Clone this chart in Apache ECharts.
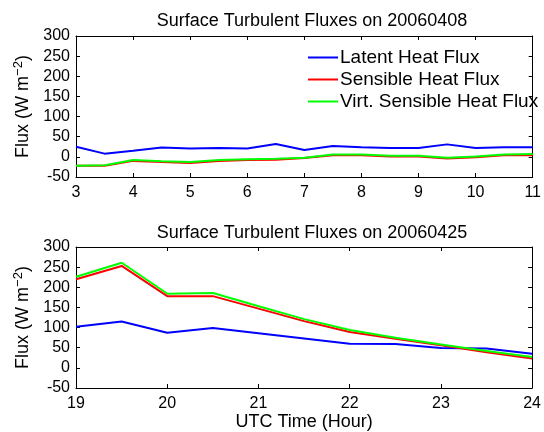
<!DOCTYPE html>
<html>
<head>
<meta charset="utf-8">
<script src="https://cdn.jsdelivr.net/npm/echarts@6/dist/echarts.min.js"></script>
<style>
  html, body { margin: 0; padding: 0; background: #fff; }
  #chart { width: 544px; height: 432px; }
</style>
</head>
<body>
<div id="chart"></div>
<script>
// 20060408
var hoursA = [3, 3.5, 4, 4.5, 5, 5.5, 6, 6.5, 7, 7.5, 8, 8.5, 9, 9.5, 10, 10.5, 11];
var latentA = [25, 8, 15, 23, 21, 22, 21, 32, 17, 27, 24, 22, 22, 31, 22, 24, 24];
var sensibleA = [-22, -22, -10, -13, -15, -10, -8, -7, -3, 4, 4, 1, 1, -4, -1, 4, 4];
var virtualA = [-22, -21, -8, -11, -13, -8, -6, -5, -2, 6, 6, 3, 3, -2, 1, 6, 7];

// 20060425
var hoursB = [19, 19.5, 20, 20.5, 21, 21.5, 22, 22.5, 23, 23.5, 24];
var latentB = [102, 115, 87, 99, 86, 73, 60, 59, 49, 48, 35];
var sensibleB = [220, 253, 178, 178, 147, 116, 89, 72, 56, 39, 23];
var virtualB = [226, 261, 184, 186, 153, 121, 94, 75, 58, 42, 27];

var names = ['Latent Heat Flux', 'Sensible Heat Flux', 'Virt. Sensible Heat Flux'];
var colors = ['#0000ff', '#ff0000', '#00ff00'];
var titles = ['Surface Turbulent Fluxes on 20060408', 'Surface Turbulent Fluxes on 20060425'];

function pairs(xs, ys) {
    var out = [];
    for (var i = 0; i < xs.length; i++) out.push([xs[i], ys[i]]);
    return out;
}

var font = 'Liberation Sans, Arial, sans-serif';
var chart = echarts.init(document.getElementById('chart'));

function xAxes(idx, min, max, withName) {
    var base = {
        gridIndex: idx, type: 'value', min: min, max: max, interval: 1,
        axisLine: { onZero: false, lineStyle: { color: '#000', width: 1 } },
        axisTick: { inside: true, length: 4, lineStyle: { color: '#000' } },
        splitLine: { show: false }
    };
    var bottom = Object.assign({}, base, {
        position: 'bottom',
        axisLabel: { color: '#000', fontFamily: font, fontSize: 16, margin: 8 }
    });
    if (withName) {
        bottom.name = 'UTC Time (Hour)';
        bottom.nameLocation = 'middle';
        bottom.nameGap = 25;
        bottom.nameTextStyle = { color: '#000', fontFamily: font, fontSize: 18, verticalAlign: 'top' };
    }
    var top = Object.assign({}, base, { position: 'top', axisLabel: { show: false } });
    return [bottom, top];
}

function yAxes(idx) {
    var base = {
        gridIndex: idx, type: 'value', min: -50, max: 300, interval: 50,
        axisLine: { show: true, onZero: false, lineStyle: { color: '#000', width: 1 } },
        axisTick: { show: true, inside: true, length: 4, lineStyle: { color: '#000' } },
        splitLine: { show: false }
    };
    var left = Object.assign({}, base, {
        position: 'left',
        axisLabel: { color: '#000', fontFamily: font, fontSize: 16, margin: 6 },
        name: '{a|Flux (W m}{s|\u22122}{a|)}',
        nameLocation: 'middle',
        nameGap: 40,
        nameRotate: 90,
        nameTextStyle: {
            rich: {
                a: { color: '#000', fontFamily: font, fontSize: 18 },
                s: { color: '#000', fontFamily: font, fontSize: 13, padding: [0, 0, 10, 0] }
            }
        }
    });
    var right = Object.assign({}, base, { position: 'right', axisLabel: { show: false } });
    return [left, right];
}

var series = [];
var sets = [[latentA, sensibleA, virtualA], [latentB, sensibleB, virtualB]];
var hours = [hoursA, hoursB];
for (var g = 0; g < 2; g++) {
    for (var k = 0; k < 3; k++) {
        series.push({
            name: names[k],
            type: 'line',
            xAxisIndex: g * 2,
            yAxisIndex: g * 2,
            data: pairs(hours[g], sets[g][k]),
            showSymbol: false,
            symbol: 'none',
            lineStyle: { color: colors[k], width: 2 },
            itemStyle: { color: colors[k] },
            animation: false
        });
    }
}

var option = {
    backgroundColor: '#fff',
    animation: false,
    title: [
        { text: titles[0], left: 307, top: 7, textAlign: 'center',
          textStyle: { color: '#000', fontFamily: font, fontSize: 18, fontWeight: 'normal' } },
        { text: titles[1], left: 307, top: 219, textAlign: 'center',
          textStyle: { color: '#000', fontFamily: font, fontSize: 18, fontWeight: 'normal' } }
    ],
    legend: {
        data: names,
        orient: 'vertical',
        left: 303,
        top: 43,
        itemWidth: 30,
        itemHeight: 2,
        itemGap: 3,
        icon: 'rect',
        textStyle: { color: '#000', fontFamily: font, fontSize: 19, padding: [0, 0, 0, -3] }
    },
    grid: [
        { left: 76, right: 7, top: 36, height: 141 },
        { left: 76, right: 7, top: 247, height: 141 }
    ],
    xAxis: xAxes(0, 3, 11, false).concat(xAxes(1, 19, 24, true)),
    yAxis: yAxes(0).concat(yAxes(1)),
    series: series
};
chart.setOption(option);
</script>
</body>
</html>
